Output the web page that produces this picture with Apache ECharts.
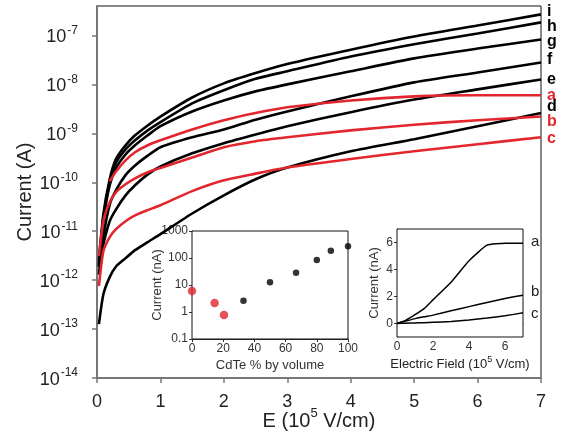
<!DOCTYPE html>
<html>
<head>
<meta charset="utf-8">
<script src="https://cdn.jsdelivr.net/npm/echarts@6/dist/echarts.min.js"></script>
<style>
  html, body { margin: 0; padding: 0; background: #fff; }
  #main { width: 565px; height: 442px; }
</style>
</head>
<body>
<div id="main"></div>
<script>
// main plot: E (10^5 V/cm) against current (A)
var fieldE  = [0.03, 0.1, 0.2, 0.3, 0.45, 0.6, 0.8, 1, 1.5, 2, 2.5, 3, 4, 5, 6, 7];
var fieldEa = [0.2, 0.3, 0.45, 0.6, 0.8, 1, 1.5, 2, 2.5, 3, 4, 5, 6, 7];
var curI = [2.5e-12, 2.2e-11, 1.15e-10, 3.0e-10, 5.7e-10, 9.1e-10, 1.45e-9, 2.2e-9, 5.4e-9, 1.05e-8, 1.7e-8, 2.6e-8, 5.1e-8, 9.5e-8, 1.6e-7, 2.7e-7];
var curH = [2.1e-12, 1.9e-11, 1.0e-10, 2.5e-10, 4.7e-10, 7.2e-10, 1.15e-9, 1.7e-9, 4.1e-9, 7.6e-9, 1.3e-8, 1.85e-8, 3.7e-8, 6.6e-8, 1.1e-7, 1.85e-7];
var curG = [1.9e-12, 1.6e-11, 8.7e-11, 1.95e-10, 3.7e-10, 5.7e-10, 9.1e-10, 1.4e-9, 2.8e-9, 4.7e-9, 7.2e-9, 1.0e-8, 1.85e-8, 3.4e-8, 5.4e-8, 8.3e-8];
var curF = [1.3e-12, 7.6e-12, 3.5e-11, 6.9e-11, 1.4e-10, 2.2e-10, 3.5e-10, 5.2e-10, 8.3e-10, 1.2e-9, 1.9e-9, 2.8e-9, 5.7e-9, 1.1e-8, 1.75e-8, 2.8e-8];
var curE = [1.9e-12, 5.4e-12, 1.6e-11, 2.8e-11, 5.4e-11, 8.7e-11, 1.45e-10, 2.1e-10, 3.9e-10, 6.3e-10, 9.5e-10, 1.4e-9, 2.7e-9, 4.9e-9, 7.9e-9, 1.26e-8];
var curD = [1.26e-13, 5.1e-13, 1.15e-12, 1.9e-12, 2.8e-12, 4.1e-12, 6.0e-12, 8.7e-12, 2.3e-11, 5.4e-11, 1.15e-10, 2.0e-10, 4.3e-10, 7.6e-10, 1.4e-9, 2.6e-9];
var curA = [1.05e-10, 1.66e-10, 2.8e-10, 4.1e-10, 5.7e-10, 7.2e-10, 1.2e-9, 1.85e-9, 2.6e-9, 3.4e-9, 4.7e-9, 5.7e-9, 6.0e-9, 6.0e-9];
var curB = [3.1e-12, 1.6e-11, 3.9e-11, 6.3e-11, 9.1e-11, 1.2e-10, 1.6e-10, 1.95e-10, 3.2e-10, 5.2e-10, 6.9e-10, 8.3e-10, 1.15e-9, 1.5e-9, 1.85e-9, 2.2e-9];
var curC = [7.6e-13, 3.9e-12, 7.6e-12, 1.1e-11, 1.6e-11, 2.1e-11, 2.7e-11, 3.4e-11, 6.6e-11, 1.1e-10, 1.5e-10, 2.0e-10, 3.0e-10, 4.3e-10, 6.0e-10, 8.3e-10];
var mainTicks = [1e-14, 1e-13, 1e-12, 1e-11, 1e-10, 1e-9, 1e-8, 1e-7];

// inset 1: current at fixed field vs CdTe content
var cdte     = [0, 14.5, 20.5, 33, 50, 66.7, 80, 89, 100];
var cdteCur  = [6.0, 2.15, 0.77, 2.6, 12.6, 28.5, 84, 186, 271];
var cdteRed  = [true, true, true, false, false, false, false, false, false];

// inset 2: I-V in nA for a, b, c
var fieldIn = [0, 0.5, 1, 1.5, 2, 3, 4, 5, 6, 7];
var inA = [0, 0.25, 0.65, 1.1, 1.75, 3.05, 4.65, 5.8, 5.95, 5.95];
var inB = [0, 0.18, 0.36, 0.5, 0.62, 0.94, 1.25, 1.56, 1.85, 2.1];
var inC = [0, 0.02, 0.04, 0.06, 0.09, 0.15, 0.26, 0.4, 0.57, 0.79];
var inTicks = [0, 2, 4, 6];

var RED = '#e3262d';
var FONT = 'Liberation Sans, Arial, sans-serif';

function pairs(xs, ys) {
    var out = [];
    for (var i = 0; i < ys.length; i++) out.push([xs[i], ys[i]]);
    return out;
}

var myChart = echarts.init(document.getElementById('main'));

var mainCurves = [
    {name: 'i', x: fieldE, y: curI, color: '#000', dy: -3},
    {name: 'h', x: fieldE, y: curH, color: '#000', dy: 4},
    {name: 'g', x: fieldE, y: curG, color: '#000', dy: 2},
    {name: 'f', x: fieldE, y: curF, color: '#000', dy: -3},
    {name: 'e', x: fieldE, y: curE, color: '#000', dy: 0},
    {name: 'a', x: fieldEa, y: curA, color: RED, dy: 0},
    {name: 'd', x: fieldE, y: curD, color: '#000', dy: -6},
    {name: 'b', x: fieldE, y: curB, color: RED, dy: 5},
    {name: 'c', x: fieldE, y: curC, color: RED, dy: 1}
];

var series = [];
mainCurves.forEach(function (c) {
    series.push({
        name: c.name,
        type: 'line',
        xAxisIndex: 0, yAxisIndex: 0,
        data: pairs(c.x, c.y),
        showSymbol: false,
        smooth: 0.2,
        lineStyle: {color: c.color, width: 2.6},
        endLabel: {
            show: true,
            formatter: c.name,
            color: c.color,
            fontFamily: FONT,
            fontSize: 16,
            fontWeight: 'bold',
            distance: 6,
            offset: [0, c.dy]
        },
        z: 3
    });
});

// inset 1 scatter
series.push({
    type: 'scatter',
    xAxisIndex: 1, yAxisIndex: 1,
    data: cdte.map(function (x, i) {
        return {
            value: [x, cdteCur[i]],
            symbolSize: cdteRed[i] ? 8.5 : 6.5,
            itemStyle: {color: cdteRed[i] ? RED : '#000'}
        };
    }),
    z: 5
});

// inset 2 lines
[['a', inA, -1], ['b', inB, -3], ['c', inC, 1]].forEach(function (s) {
    series.push({
        type: 'line',
        xAxisIndex: 2, yAxisIndex: 2,
        data: pairs(fieldIn, s[1]),
        showSymbol: false,
        smooth: 0.15,
        lineStyle: {color: '#000', width: 1.5},
        endLabel: {
            show: true, formatter: s[0], color: '#222',
            fontFamily: FONT, fontSize: 15, distance: 8, offset: [0, s[2]]
        },
        z: 5
    });
});

var supRich = {
    b: {fontFamily: FONT, fontSize: 18, color: '#222', lineHeight: 22, verticalAlign: 'bottom'},
    s: {fontFamily: FONT, fontSize: 12, color: '#222', lineHeight: 22, verticalAlign: 'top', padding: [0, 0, 0, 1]}
};
var nameRich = {
    b: {fontFamily: FONT, fontSize: 20, color: '#222', lineHeight: 24, verticalAlign: 'bottom'},
    s: {fontFamily: FONT, fontSize: 13, color: '#222', lineHeight: 24, verticalAlign: 'top'}
};
var smallRich = {
    b: {fontFamily: FONT, fontSize: 13, color: '#222', lineHeight: 16, verticalAlign: 'bottom'},
    s: {fontFamily: FONT, fontSize: 9, color: '#222', lineHeight: 16, verticalAlign: 'top'}
};

var insetLabel = {fontFamily: FONT, fontSize: 12, color: '#333', margin: 4};
var insetName = {fontFamily: FONT, fontSize: 13, color: '#333'};

var option = {
    animation: false,
    backgroundColor: '#fff',
    grid: [
        {left: 97, top: 6, right: 24, bottom: 64, show: true, borderColor: '#111', borderWidth: 1, backgroundColor: 'transparent'},
        {left: 192, top: 231, width: 156, height: 108, show: true, borderColor: '#111', borderWidth: 1, backgroundColor: '#fff', z: 4},
        {left: 397, top: 229, width: 126, height: 108, show: true, borderColor: '#111', borderWidth: 1, backgroundColor: '#fff', z: 4}
    ],
    xAxis: [
        {
            type: 'value', gridIndex: 0, min: 0, max: 7, interval: 1,
            axisLine: {lineStyle: {color: '#777', width: 2}},
            axisTick: {inside: false, length: 5, lineStyle: {color: '#777', width: 1.5}},
            axisLabel: {fontFamily: FONT, fontSize: 18, color: '#222', margin: 15},
            splitLine: {show: false},
            name: '{b|E (10}{s|5}{b| V/cm)}',
            nameLocation: 'middle', nameGap: 29, nameMoveOverlap: false,
            nameTextStyle: {rich: nameRich}
        },
        {
            type: 'value', gridIndex: 1, min: 0, max: 100, interval: 20,
            axisLine: {lineStyle: {color: '#333', width: 1}},
            axisTick: {length: 3, lineStyle: {color: '#333'}},
            axisLabel: insetLabel,
            splitLine: {show: false},
            name: 'CdTe % by volume', nameLocation: 'middle', nameGap: 20, nameMoveOverlap: false,
            nameTextStyle: insetName
        },
        {
            type: 'value', gridIndex: 2, min: 0, max: 7, interval: 2,
            axisLine: {lineStyle: {color: '#333', width: 1}},
            axisTick: {length: 3, lineStyle: {color: '#333'}, customValues: inTicks},
            axisLabel: {fontFamily: FONT, fontSize: 12, color: '#333', margin: 4, customValues: inTicks},
            splitLine: {show: false},
            name: '{b|Electric Field (10}{s|5}{b| V/cm)}', nameLocation: 'middle', nameGap: 18, nameMoveOverlap: false,
            nameTextStyle: {rich: smallRich}
        }
    ],
    yAxis: [
        {
            type: 'log', gridIndex: 0, logBase: 10, min: 1e-14, max: 4e-7,
            axisLine: {lineStyle: {color: '#777', width: 2}},
            axisTick: {length: 5, lineStyle: {color: '#777', width: 1.5}, customValues: mainTicks},
            axisLabel: {
                customValues: mainTicks,
                margin: 19,
                formatter: function (v) {
                    var p = Math.log(v) / Math.LN10;
                    var r = Math.round(p);
                    if (Math.abs(p - r) > 0.01) return '';
                    return '{b|10}{s|' + r + '}';
                },
                rich: supRich
            },
            splitLine: {show: false},
            name: 'Current (A)', nameLocation: 'middle', nameGap: 62, nameMoveOverlap: false,
            nameTextStyle: {fontFamily: FONT, fontSize: 20, color: '#222'}
        },
        {
            type: 'log', gridIndex: 1, logBase: 10, min: 0.1, max: 1000,
            axisLine: {lineStyle: {color: '#333', width: 1}},
            axisTick: {length: 3, lineStyle: {color: '#333'}},
            axisLabel: {
                fontFamily: FONT, fontSize: 12, color: '#333', margin: 4,
                formatter: function (v) { return String(parseFloat(v.toPrecision(6))); }
            },
            splitLine: {show: false},
            name: 'Current (nA)', nameLocation: 'middle', nameGap: 28, nameMoveOverlap: false,
            nameTextStyle: insetName
        },
        {
            type: 'value', gridIndex: 2, min: -1, max: 7, interval: 2,
            axisLine: {lineStyle: {color: '#333', width: 1}},
            axisTick: {length: 3, lineStyle: {color: '#333'}, customValues: inTicks},
            axisLabel: {
                fontFamily: FONT, fontSize: 12, color: '#333', margin: 4,
                customValues: inTicks
            },
            splitLine: {show: false},
            name: 'Current (nA)', nameLocation: 'middle', nameGap: 16, nameMoveOverlap: false,
            nameTextStyle: insetName
        }
    ],
    series: series
};

myChart.setOption(option);
</script>
</body>
</html>
